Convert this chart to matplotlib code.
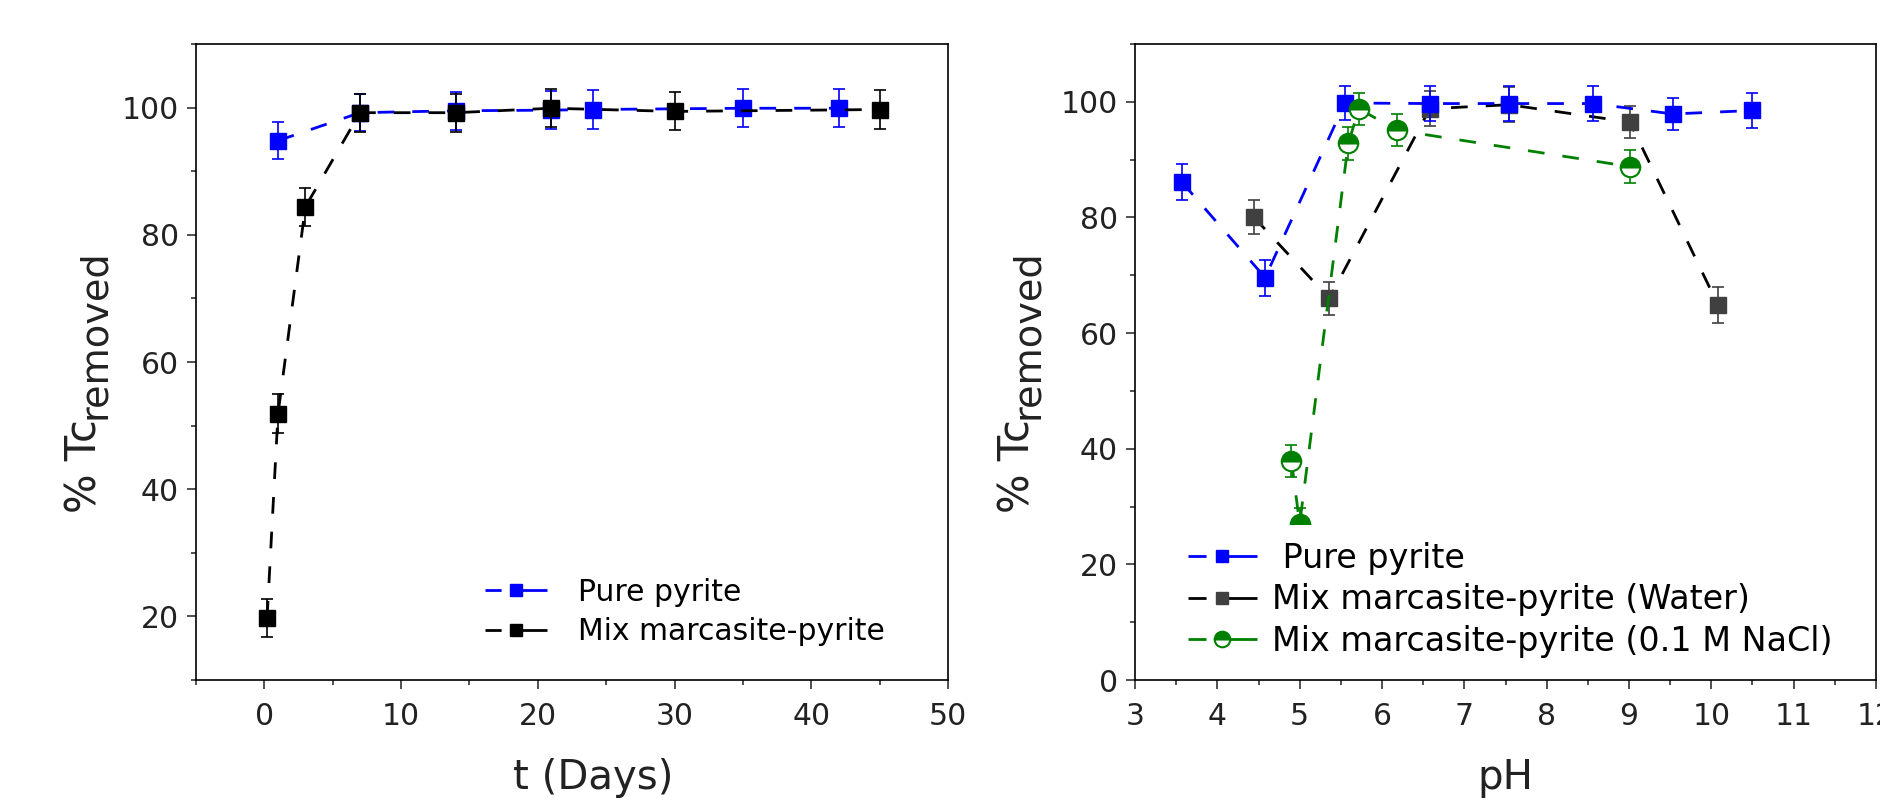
import matplotlib
matplotlib.use("Agg")
import matplotlib.pyplot as plt
from matplotlib.lines import Line2D
from matplotlib.ticker import MultipleLocator

plt.rcParams["font.family"] = ["DejaVu Sans"]

# --- removal vs time ---
DAYS_PURE = [1, 7, 14, 21, 24, 35, 42]
TC_PURE_T = [94.8, 99.2, 99.5, 99.6, 99.7, 99.9, 99.9]
ERR_PURE_T = [2.9, 2.9, 3.0, 3.0, 3.0, 3.0, 3.0]

DAYS_MIX = [0.2, 1, 3, 7, 14, 21, 30, 45]
TC_MIX_T = [19.8, 51.9, 84.4, 99.2, 99.2, 99.9, 99.4, 99.7]
ERR_MIX_T = [3.0, 3.0, 3.0, 3.0, 3.0, 3.0, 3.0, 3.0]

# --- removal vs pH ---
PH_PURE = [3.57, 4.58, 5.55, 6.58, 7.54, 8.56, 9.53, 10.50]
TC_PURE_PH = [86.1, 69.6, 99.8, 99.7, 99.7, 99.7, 97.9, 98.5]
ERR_PURE_PH = [3.1, 3.1, 3.0, 3.0, 3.0, 3.0, 2.8, 3.0]

PH_WATER = [4.44, 5.36, 6.58, 7.54, 9.01, 10.08]
TC_WATER = [80.1, 66.0, 98.8, 99.5, 96.5, 64.9]
ERR_WATER = [2.9, 2.9, 3.0, 3.0, 2.8, 3.1]

PH_NACL = [4.90, 5.00, 5.59, 5.72, 6.18, 9.01]
TC_NACL = [37.9, 27.0, 92.8, 98.8, 95.1, 88.8]
ERR_NACL = [2.8, 2.8, 2.8, 2.8, 2.8, 2.8]

LABELS_T = ["Pure pyrite", "Mix marcasite-pyrite"]
LABELS_PH = [" Pure pyrite", "Mix marcasite-pyrite (Water)",
             "Mix marcasite-pyrite (0.1 M NaCl)"]

BLUE = "#0000ff"
BLACK = "#000000"
GRAY = "#404040"
GREEN = "#008000"
TEXT = "#222222"

TICK_FS = 21.5
LABEL_FS = 29
DASH = (6, 6.5)
HALF = dict(fillstyle="top", markerfacecoloralt="white")


def draw_series(ax, x, y, err, line_color, marker_color, marker, z,
                msize=11.5, mew=1.0, **mk):
    ax.errorbar(x, y, yerr=err, fmt="none", ecolor=marker_color, elinewidth=1.2,
                capsize=4.5, capthick=1.2, zorder=z)
    ax.plot(x, y, color=line_color, lw=2.0, ls="--", dashes=DASH, marker=marker,
            markersize=msize, markerfacecolor=marker_color, markeredgecolor=marker_color,
            markeredgewidth=mew, zorder=z + 0.5, **mk)


def legend_handle(line_color, marker_color, marker, dashes, msize=8.6, mew=1.0, **mk):
    # "- ■-" style key: short dash, gap, marker, longer dash
    return Line2D([], [], color=line_color, lw=2.0, ls="--", dashes=dashes,
                  marker=marker, markersize=msize, markerfacecolor=marker_color,
                  markeredgecolor=marker_color, markeredgewidth=mew, **mk)


def style_axes(ax):
    for sp in ax.spines.values():
        sp.set_linewidth(1.2)
    ax.tick_params(which="both", direction="out", width=1.1, labelsize=TICK_FS,
                   colors=TEXT, top=False, right=False)
    ax.tick_params(axis="y", pad=6)
    ax.tick_params(axis="x", pad=9)
    ax.tick_params(which="major", length=6.5)
    ax.tick_params(which="minor", length=3.5)


def add_ylabel(ax, x, y):
    # "% Tc" with a near full-size, lowered "removed" subscript
    main = ax.text(x, y, "% Tc", transform=ax.transAxes, rotation=90,
                   ha="center", va="center", fontsize=30, color=TEXT)
    ax.annotate("removed", xy=(1, 1), xycoords=main, xytext=(5, 0),
                textcoords="offset points", rotation=90, ha="right", va="bottom",
                fontsize=27.5, color=TEXT)


fig = plt.figure(figsize=(18.81, 8), dpi=100)
ax1 = fig.add_axes([196 / 1881, 120 / 800, 752 / 1881, 636 / 800])
ax2 = fig.add_axes([1135 / 1881, 120 / 800, 741 / 1881, 636 / 800])

# left panel
draw_series(ax1, DAYS_PURE, TC_PURE_T, ERR_PURE_T, BLUE, BLUE, "s", 3)
draw_series(ax1, DAYS_MIX, TC_MIX_T, ERR_MIX_T, BLACK, BLACK, "s", 4)
ax1.set_xlim(-5, 50)
ax1.set_ylim(10, 110)
ax1.xaxis.set_major_locator(MultipleLocator(10))
ax1.xaxis.set_minor_locator(MultipleLocator(5))
ax1.yaxis.set_major_locator(MultipleLocator(20))
ax1.yaxis.set_minor_locator(MultipleLocator(10))
style_axes(ax1)
ax1.set_xlabel("t (Days)", fontsize=LABEL_FS, labelpad=20, color=TEXT)
ax1.xaxis.label.set_x(0.528)
add_ylabel(ax1, -0.148, 0.336)
dash_l = (5.8, 3.2, 14.4, 10)
h1 = [legend_handle(BLUE, BLUE, "s", dash_l), legend_handle(BLACK, BLACK, "s", dash_l)]
ax1.legend(h1, LABELS_T, loc="center left", bbox_to_anchor=(0.384, 0.107),
           fontsize=21.5, frameon=False, handlelength=2.07, handletextpad=1.05,
           labelspacing=0.35, borderpad=0, borderaxespad=0)

# right panel
draw_series(ax2, PH_WATER, TC_WATER, ERR_WATER, BLACK, GRAY, "s", 3)
draw_series(ax2, PH_PURE, TC_PURE_PH, ERR_PURE_PH, BLUE, BLUE, "s", 4)
draw_series(ax2, PH_NACL, TC_NACL, ERR_NACL, GREEN, GREEN, "o", 5, msize=14, mew=1.5,
            **HALF)
ax2.set_xlim(3, 12)
ax2.set_ylim(0, 110)
ax2.xaxis.set_major_locator(MultipleLocator(1))
ax2.xaxis.set_minor_locator(MultipleLocator(0.5))
ax2.yaxis.set_major_locator(MultipleLocator(20))
ax2.yaxis.set_minor_locator(MultipleLocator(10))
style_axes(ax2)
ax2.set_xlabel("pH", fontsize=LABEL_FS, labelpad=20, color=TEXT)
add_ylabel(ax2, -0.158, 0.336)
dash_r = (6.5, 3.6, 16.2, 3.6)
h2 = [legend_handle(BLUE, BLUE, "s", dash_r, msize=9.2),
      legend_handle(BLACK, GRAY, "s", dash_r, msize=9.2),
      legend_handle(GREEN, GREEN, "o", dash_r, msize=11.2, mew=1.5, **HALF)]
leg2 = ax2.legend(h2, LABELS_PH, loc="center left", bbox_to_anchor=(0.049, 0.126),
                  fontsize=24, frameon=True, facecolor="white", edgecolor="none",
                  framealpha=1, fancybox=False, handlelength=2.07, handletextpad=0.45,
                  labelspacing=0.25, borderpad=0.5, borderaxespad=0)
leg2.set_zorder(10)

fig.savefig("out.png", dpi=100)
